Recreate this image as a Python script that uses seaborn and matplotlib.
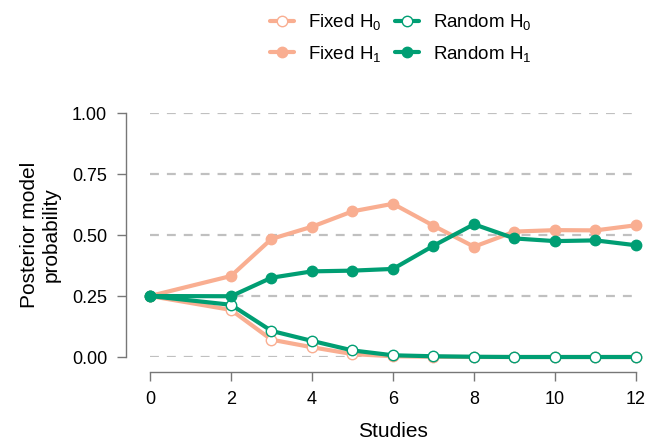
import pandas as pd
import matplotlib.pyplot as plt
import seaborn as sns

# -----------------------
# Data
# -----------------------
studies = [0, 2, 3, 4, 5, 6, 7, 8, 9, 10, 11, 12]

fixed_h0 = [0.25, 0.193, 0.071, 0.040, 0.012, 0.003, 0.001, 0.000, 0.000, 0.000, 0.000, 0.000]
fixed_h1 = [0.25, 0.332, 0.484, 0.534, 0.597, 0.628, 0.538, 0.452, 0.514, 0.520, 0.519, 0.540]
random_h0 = [0.25, 0.214, 0.107, 0.066, 0.027, 0.007, 0.003, 0.001, 0.000, 0.000, 0.000, 0.000]
random_h1 = [0.25, 0.249, 0.325, 0.351, 0.354, 0.361, 0.456, 0.544, 0.486, 0.475, 0.478, 0.458]

y_ticks = [0.0, 0.25, 0.5, 0.75, 1.0]
x_ticks = [0, 2, 4, 6, 8, 10, 12]

salmon = "#F9AE91"
green = "#009E73"

sns.set_style("white")
plt.rcParams["font.family"] = ["Liberation Sans", "DejaVu Sans"]
plt.rcParams["text.color"] = "black"
plt.rcParams["axes.labelcolor"] = "black"
plt.rcParams["xtick.color"] = "black"
plt.rcParams["ytick.color"] = "black"

df = pd.DataFrame({
    "studies": studies * 4,
    "prob": fixed_h0 + fixed_h1 + random_h0 + random_h1,
    "series": (["Fixed H0"] * len(studies) + ["Fixed H1"] * len(studies)
               + ["Random H0"] * len(studies) + ["Random H1"] * len(studies)),
})

fig = plt.figure(figsize=(6.57, 4.42), dpi=100)
ax = fig.add_axes([0.2283, 0.1923, 0.7397, 0.552])

# dashed reference lines
for y in y_ticks:
    ax.axhline(y, color="#C0C0C0", lw=1.6, ls=(0, (4.0, 3.6)), zorder=0)

styles = {
    "Fixed H0": (salmon, "white", r"Fixed H$\mathregular{_0}$"),
    "Fixed H1": (salmon, salmon, r"Fixed H$\mathregular{_1}$"),
    "Random H0": (green, "white", r"Random H$\mathregular{_0}$"),
    "Random H1": (green, green, r"Random H$\mathregular{_1}$"),
}

for name, (col, face, label) in styles.items():
    sub = df[df["series"] == name]
    sns.lineplot(
        data=sub, x="studies", y="prob", ax=ax,
        color=col, lw=3, marker="o", markersize=7.5,
        markerfacecolor=face, markeredgecolor=col, markeredgewidth=1.0,
        label=label, clip_on=False, zorder=3,
    )

ax.set_xlim(0, 12)
ax.set_ylim(0, 1)
ax.set_xticks(x_ticks)
ax.set_yticks(y_ticks)
ax.set_yticklabels([f"{t:.2f}" for t in y_ticks])

sns.despine(ax=ax)
ax.spines["left"].set_position(("outward", 17.3))
ax.spines["bottom"].set_position(("outward", 10.8))
for s in ["left", "bottom"]:
    ax.spines[s].set_color("#777777")
    ax.spines[s].set_linewidth(1.0)
ax.tick_params(axis="both", direction="out", length=6.5, width=1.0,
               color="#777777", labelcolor="black", labelsize=13, pad=7,
               bottom=True, left=True)

ax.set_xlabel("Studies", fontsize=15, labelpad=10)
ax.set_ylabel("Posterior model\nprobability", fontsize=15, labelpad=8)

ax.legend(
    ncol=2, loc="center", bbox_to_anchor=(0.61, 0.914),
    bbox_transform=fig.transFigure, frameon=False, fontsize=13.5,
    handlelength=1.3, columnspacing=0.7, handletextpad=0.75,
    labelspacing=0.6,
)

fig.savefig("out.png", dpi=100)
